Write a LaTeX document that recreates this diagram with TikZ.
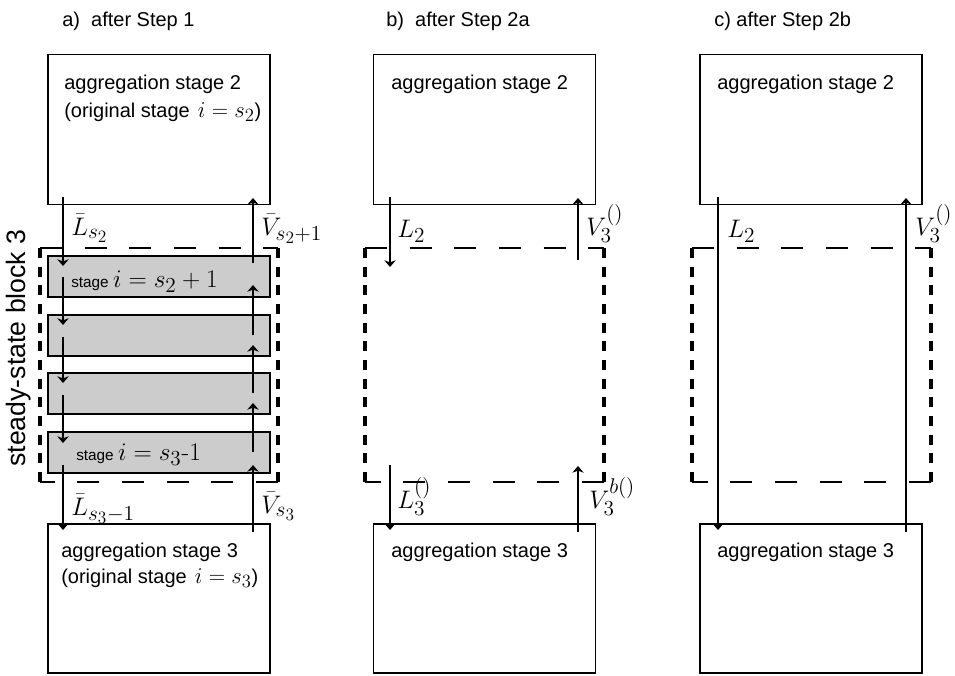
\RequirePackage{fix-cm}
\documentclass[tikz,border=0pt]{standalone}
\usepackage{fontspec}
\setsansfont{Liberation Sans}
\DeclareMathSizes{19}{19}{16}{13}
\DeclareMathSizes{17}{17}{14}{11}
\usetikzlibrary{arrows.meta}
\begin{document}
\begin{tikzpicture}[x=0.75pt,y=-0.75pt,
  bigbox/.style={draw,line width=1.3pt,inner sep=0pt,minimum width=166.5pt,minimum height=112.5pt},
  graybox/.style={draw,line width=1.3pt,fill=black!20,inner sep=0pt,minimum width=166.5pt,minimum height=30.75pt},
  txt/.style={anchor=base west,inner sep=0pt,font=\sffamily\fontsize{15}{18}\selectfont},
  smalltxt/.style={anchor=base west,inner sep=0pt,font=\sffamily\fontsize{11.5}{13}\selectfont},
  sidetxt/.style={inner sep=0pt,rotate=90,font=\sffamily\fontsize{20}{23}\selectfont},
  lab/.style={anchor=base west,inner sep=0pt,font=\fontsize{19}{22}\selectfont},
  flow/.style={line width=1pt,-{Stealth[width=8.5pt,length=5pt,inset=1.5pt]}},
  hdash/.style={line width=0.9pt,dash pattern=on 16.5pt off 17pt},
  vdash/.style={line width=2.3pt,dash pattern=on 7.5pt off 6.5pt},
]
\useasboundingbox (0,0) rectangle (955,675);

% ---------- titles ----------
\node[txt] (ta) at (62,26) {a)\ \ after Step 1};
\node[txt] (tb) at (386,26) {b)\ \ after Step 2a};
\node[txt] (tc) at (714,26) {c) after Step 2b};

% ---------- panel a ----------
\node[bigbox] (aTop) at (159,129.5) {};
\node[bigbox,minimum height=111.75pt] (aBot) at (159,598.5) {};
\node[txt] (aTopT1) at (64,89) {aggregation stage 2};
\node[txt] (aTopT2) at (64,117) {(original stage\hspace{6pt}{\fontsize{17}{20}\selectfont$i=s_2$})};
\node[txt] (aBotT1) at (61,557) {aggregation stage 3};
\node[txt] (aBotT2) at (61,583) {(original stage\hspace{6pt}{\fontsize{17}{20}\selectfont$i=s_3$})};

\node[graybox] (g1) at (159,276.5) {};
\node[graybox] (g2) at (159,335.2) {};
\node[graybox] (g3) at (159,393.8) {};
\node[graybox] (g4) at (159,452.5) {};
\node[smalltxt] (g1t) at (71,287) {stage {\fontsize{19}{22}\selectfont$i=s_2+1$}};
\node[smalltxt] (g4t) at (76,460) {stage {\fontsize{19}{22}\selectfont$i=s_3$\textrm{-}$1$}};

% dashed block a
\coordinate (aNW) at (40,248);
\coordinate (aNE) at (278,248);
\coordinate (aSE) at (278,482);
\coordinate (aSW) at (40,482);
\draw[hdash] (aNW) -- (aNE);
\draw[vdash] (aNE) -- (aSE);
\draw[hdash] (aSE) -- (aSW);
\draw[vdash] (aSW) -- (aNW);
\node[sidetxt] (side) at (19,348) {steady-state block 3};

% flows a (left, down)
\coordinate (aL0s) at (63,197); \coordinate (aL0e) at (63,266);
\coordinate (aL1s) at (63,277); \coordinate (aL1e) at (63,325);
\coordinate (aL2s) at (63,337); \coordinate (aL2e) at (63,383);
\coordinate (aL3s) at (63,395); \coordinate (aL3e) at (63,443);
\coordinate (aL4s) at (63,465); \coordinate (aL4e) at (63,530);
\draw[flow] (aL0s) -- (aL0e);
\draw[flow] (aL1s) -- (aL1e);
\draw[flow] (aL2s) -- (aL2e);
\draw[flow] (aL3s) -- (aL3e);
\draw[flow] (aL4s) -- (aL4e);
% flows a (right, up)
\coordinate (aV0s) at (253,263); \coordinate (aV0e) at (253,198);
\coordinate (aV1s) at (253,335); \coordinate (aV1e) at (253,285);
\coordinate (aV2s) at (253,393); \coordinate (aV2e) at (253,345);
\coordinate (aV3s) at (253,452); \coordinate (aV3e) at (253,403);
\coordinate (aV4s) at (253,532); \coordinate (aV4e) at (253,465);
\draw[flow] (aV0s) -- (aV0e);
\draw[flow] (aV1s) -- (aV1e);
\draw[flow] (aV2s) -- (aV2e);
\draw[flow] (aV3s) -- (aV3e);
\draw[flow] (aV4s) -- (aV4e);

\node[lab] (laL1) at (71,235) {$\bar L_{s_2}$};
\node[lab] (laV1) at (261,235) {$\bar V_{s_2+1}$};
\node[lab] (laL2) at (71,515) {$\bar L_{s_3-1}$};
\node[lab] (laV2) at (261,513) {$\bar V_{s_3}$};

% ---------- panel b ----------
\node[bigbox] (bTop) at (484.5,129.5) {};
\node[bigbox,minimum height=111.75pt] (bBot) at (484.5,598.5) {};
\node[txt] (bTopT) at (391,89) {aggregation stage 2};
\node[txt] (bBotT) at (391,557) {aggregation stage 3};
\coordinate (bNW) at (365,248);
\coordinate (bNE) at (604,248);
\coordinate (bSE) at (604,482);
\coordinate (bSW) at (365,482);
\draw[hdash] (bNW) -- (bNE);
\draw[vdash] (bNE) -- (bSE);
\draw[hdash] (bSE) -- (bSW);
\draw[vdash] (bSW) -- (bNW);
\coordinate (bL0s) at (390,197); \coordinate (bL0e) at (390,267);
\coordinate (bV0s) at (578,260); \coordinate (bV0e) at (578,198);
\coordinate (bL1s) at (390,465); \coordinate (bL1e) at (390,530);
\coordinate (bV1s) at (578,532); \coordinate (bV1e) at (578,466);
\draw[flow] (bL0s) -- (bL0e);
\draw[flow] (bV0s) -- (bV0e);
\draw[flow] (bL1s) -- (bL1e);
\draw[flow] (bV1s) -- (bV1e);
\node[lab] (lbL1) at (397,237) {$L_2$};
\node[lab] (lbV1) at (586,235) {$V_3^{()}$};
\node[lab] (lbL2) at (397,508) {$L_3^{()}$};
\node[lab] (lbV2) at (589,508) {$V_3^{b()}$};

% ---------- panel c ----------
\node[bigbox] (cTop) at (811,129.5) {};
\node[bigbox,minimum height=111.75pt] (cBot) at (811,598.5) {};
\node[txt] (cTopT) at (717,89) {aggregation stage 2};
\node[txt] (cBotT) at (717,557) {aggregation stage 3};
\coordinate (cNW) at (692,248);
\coordinate (cNE) at (931,248);
\coordinate (cSE) at (931,482);
\coordinate (cSW) at (692,482);
\draw[hdash] (cNW) -- (cNE);
\draw[vdash] (cNE) -- (cSE);
\draw[hdash] (cSE) -- (cSW);
\draw[vdash] (cSW) -- (cNW);
\coordinate (cLs) at (718,197); \coordinate (cLe) at (718,530);
\coordinate (cVs) at (906,532); \coordinate (cVe) at (906,198);
\draw[flow] (cLs) -- (cLe);
\draw[flow] (cVs) -- (cVe);
\node[lab] (lcL) at (727,237) {$L_2$};
\node[lab] (lcV) at (915,235) {$V_3^{()}$};
\end{tikzpicture}
\end{document}
